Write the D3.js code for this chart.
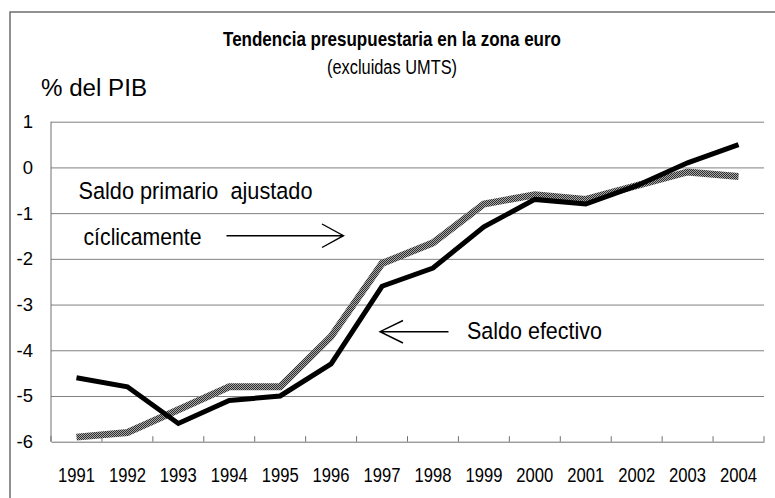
<!DOCTYPE html>
<html>
<head>
<meta charset="utf-8">
<script src="https://cdn.jsdelivr.net/npm/d3@7"></script>
<style>
  html, body { margin: 0; padding: 0; background: #fff; }
  svg { display: block; }
  text { font-family: "Liberation Sans", Arial, sans-serif; fill: #000; }
</style>
</head>
<body>
<svg id="chart" width="775" height="498"></svg>
<script>
// ---- data ----
const years = ["1991","1992","1993","1994","1995","1996","1997","1998","1999","2000","2001","2002","2003","2004"];
const saldoEfectivo = [-4.6, -4.8, -5.6, -5.1, -5.0, -4.3, -2.6, -2.2, -1.3, -0.7, -0.8, -0.4, 0.1, 0.5];
const saldoPrimarioAjustado = [-5.9, -5.8, -5.3, -4.8, -4.8, -3.7, -2.1, -1.65, -0.8, -0.6, -0.7, -0.4, -0.1, -0.2];
const yTicks = [-6, -5, -4, -3, -2, -1, 0, 1];
const titleText = "Tendencia presupuestaria en la zona euro";
const subtitleText = "(excluidas UMTS)";
const yUnitText = "% del PIB";

const svg = d3.select("#chart");

// outer frame (clipped on right / bottom like the reference)
svg.append("rect").attr("x", 10).attr("y", 12).attr("width", 820).attr("height", 540)
  .attr("fill", "none").attr("stroke", "#6e6e6e").attr("stroke-width", 1.5);

const plotL = 51, plotR = 764, plotT = 121.7, plotB = 441.7;
const x = d3.scaleBand().domain(years).range([plotL, plotR]);
const y = d3.scaleLinear().domain([-6, 1]).range([plotB, plotT]);
const cx = d => x(d) + x.bandwidth() / 2;

// hatch pattern for the grey series
const defs = svg.append("defs");
const pat = defs.append("pattern").attr("id", "hatch").attr("patternUnits", "userSpaceOnUse")
  .attr("width", 2).attr("height", 2);
pat.append("rect").attr("width", 2).attr("height", 2).attr("fill", "#a8a8a8");
pat.append("rect").attr("width", 1).attr("height", 1).attr("fill", "#2e2e2e");
pat.append("rect").attr("x", 1).attr("y", 1).attr("width", 1).attr("height", 1).attr("fill", "#2e2e2e");

// gridlines
const grid = svg.append("g").attr("transform", `translate(${plotL},0)`)
  .call(d3.axisLeft(y).tickValues(yTicks.filter(v => v > -6)).tickSize(-(plotR - plotL)).tickFormat(""));
grid.select(".domain").remove();
grid.selectAll(".tick line").attr("stroke", "#808080").attr("stroke-width", 1);

// y axis labels
const yAx = svg.append("g").attr("transform", `translate(${plotL},0)`)
  .call(d3.axisLeft(y).tickValues(yTicks).tickSize(0).tickPadding(18).tickFormat(d3.format("d")));
yAx.select(".domain").remove();
yAx.selectAll("text").attr("font-size", 18.5).attr("font-family", "Liberation Sans, Arial, sans-serif")
  .text(d => d < 0 ? "-" + Math.abs(d) : d);

// y axis line
svg.append("line").attr("x1", plotL).attr("x2", plotL).attr("y1", y(1)).attr("y2", y(-6))
  .attr("stroke", "#707070").attr("stroke-width", 1);

// x axis
const xAx = svg.append("g").attr("transform", `translate(0,${plotB})`)
  .call(d3.axisBottom(x).tickSize(0).tickPadding(26));
xAx.select(".domain").attr("stroke", "#707070").attr("stroke-width", 1);
xAx.selectAll("text").attr("font-size", 20).attr("font-family", "Liberation Sans, Arial, sans-serif")
  .attr("textLength", 37).attr("lengthAdjust", "spacingAndGlyphs");
// boundary tick marks (pointing inward)
const bounds = years.map(d => x(d)).concat([x.range()[1]]);
svg.append("g").selectAll("line").data(bounds).join("line")
  .attr("x1", d => d).attr("x2", d => d).attr("y1", plotB - 5.5).attr("y2", plotB)
  .attr("stroke", "#707070").attr("stroke-width", 1);

// lines
const lineGen = arr => d3.line().x((d, i) => cx(years[i])).y(d => y(d))(arr);
svg.append("path").attr("d", lineGen(saldoPrimarioAjustado)).attr("fill", "none")
  .attr("stroke", "url(#hatch)").attr("stroke-width", 7).attr("stroke-linejoin", "miter");
svg.append("path").attr("d", lineGen(saldoEfectivo)).attr("fill", "none")
  .attr("stroke", "#000").attr("stroke-width", 5).attr("stroke-linejoin", "miter");

// titles
svg.append("text").attr("x", 392).attr("y", 46).attr("text-anchor", "middle")
  .attr("font-size", 21).attr("font-weight", "bold")
  .attr("textLength", 338).attr("lengthAdjust", "spacingAndGlyphs").text(titleText);
svg.append("text").attr("x", 392).attr("y", 73.5).attr("text-anchor", "middle")
  .attr("font-size", 19.5)
  .attr("textLength", 130).attr("lengthAdjust", "spacingAndGlyphs").text(subtitleText);
svg.append("text").attr("x", 41).attr("y", 95.5).attr("font-size", 23)
  .attr("textLength", 106).attr("lengthAdjust", "spacingAndGlyphs").text(yUnitText);

// annotations
svg.append("text").attr("x", 78.5).attr("y", 199).attr("font-size", 24.5)
  .attr("textLength", 234).attr("lengthAdjust", "spacingAndGlyphs").text("Saldo primario\u00a0 ajustado");
svg.append("text").attr("x", 83.5).attr("y", 245).attr("font-size", 24.5)
  .attr("textLength", 118).attr("lengthAdjust", "spacingAndGlyphs").text("cíclicamente");
svg.append("text").attr("x", 467).attr("y", 338.5).attr("font-size", 24.5)
  .attr("textLength", 135).attr("lengthAdjust", "spacingAndGlyphs").text("Saldo efectivo");

const arrows = svg.append("g").attr("fill", "none").attr("stroke", "#000").attr("stroke-width", 1.4);
arrows.append("path").attr("d", "M226.5,235.7 L343.5,235.7 M322,224 L343.5,235.7 L322,247.5");
arrows.append("path").attr("d", "M448.5,331.7 L380,331.7 M403,320.5 L380,331.7 L403,343");
</script>
</body>
</html>
